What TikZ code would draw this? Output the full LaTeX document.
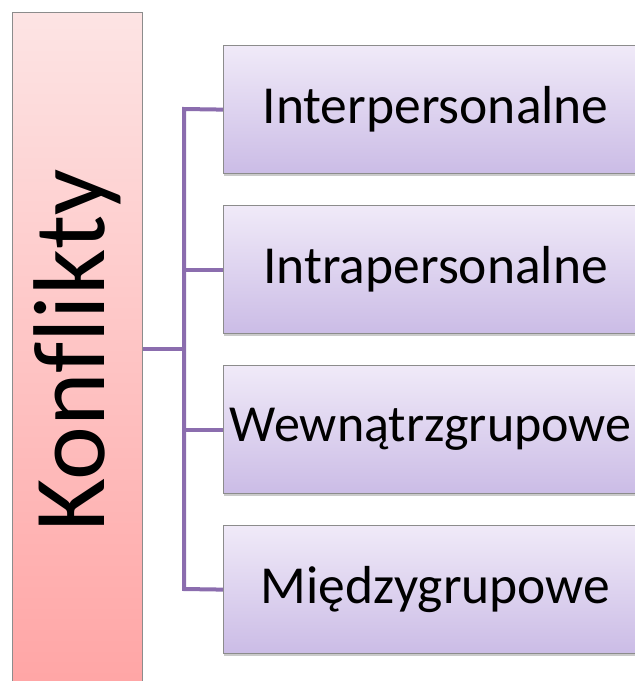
\documentclass[tikz,border=0pt]{standalone}
\usepackage{fontspec}
\setmainfont{Carlito}[Ligatures=NoCommon]
\usetikzlibrary{shadows}
\definecolor{rootTop}{HTML}{FDE4E4}
\definecolor{rootBot}{HTML}{FFA5A5}
\definecolor{leafTop}{HTML}{F0EAF8}
\definecolor{leafBot}{HTML}{CBBCE6}
\definecolor{edgeGray}{HTML}{8C8C8C}
\definecolor{linkPurple}{HTML}{8B6DAE}
\tikzset{
  rootbox/.style={draw=edgeGray, line width=1.2pt, top color=rootTop, bottom color=rootBot,
    minimum width=130pt, minimum height=676pt, inner sep=0pt, anchor=north west},
  leafbox/.style={draw=edgeGray, line width=1.2pt, top color=leafTop, bottom color=leafBot,
    minimum width=424pt, minimum height=128pt, inner sep=0pt, anchor=north west,
    drop shadow={shadow xshift=0pt, shadow yshift=-2.5pt, opacity=0.35, fill=black!60}},
  leaftext/.style={font=\fontsize{53.5}{58}\selectfont, inner sep=0pt},
  link/.style={draw=linkPurple, line width=4pt}
}
\begin{document}
\begin{tikzpicture}[x=1pt,y=-1pt]
  \useasboundingbox (0,0) rectangle (635,681);
  \begin{scope}
    \clip (0,0) rectangle (635,681);
    % root box with rotated title
    \node[rootbox] (root) at (12,12) {};
    \node[rotate=90, font=\fontsize{102}{110}\selectfont, inner sep=0pt] (title) at (root.center) {Konflikty};
    % category boxes
    \node[leafbox] (a) at (223,45)  {};
    \node[leafbox] (b) at (223,205) {};
    \node[leafbox] (c) at (223,365) {};
    \node[leafbox] (d) at (223,525) {};
    \node[leaftext] (ta) at (a.center) {Interpersonalne};
    \node[leaftext] (tb) at (b.center) {Intrapersonalne};
    \node[leaftext, font=\fontsize{52}{56}\selectfont, xshift=-5pt] (tc) at (c.center) {Wewnątrzgrupowe};
    \node[leaftext] (td) at (d.center) {Międzygrupowe};
    % tree connectors
    \coordinate (hub) at (184,349);
    \coordinate (top) at (184,109);
    \coordinate (bot) at (184,589);
    \draw[link] (root.east |- hub) -- (hub);
    \draw[link, line join=miter] (a.west) -- (top) -- (bot) -- (d.west);
    \draw[link] (b.west) -- (b.west -| hub);
    \draw[link] (c.west) -- (c.west -| hub);
  \end{scope}
\end{tikzpicture}
\end{document}
